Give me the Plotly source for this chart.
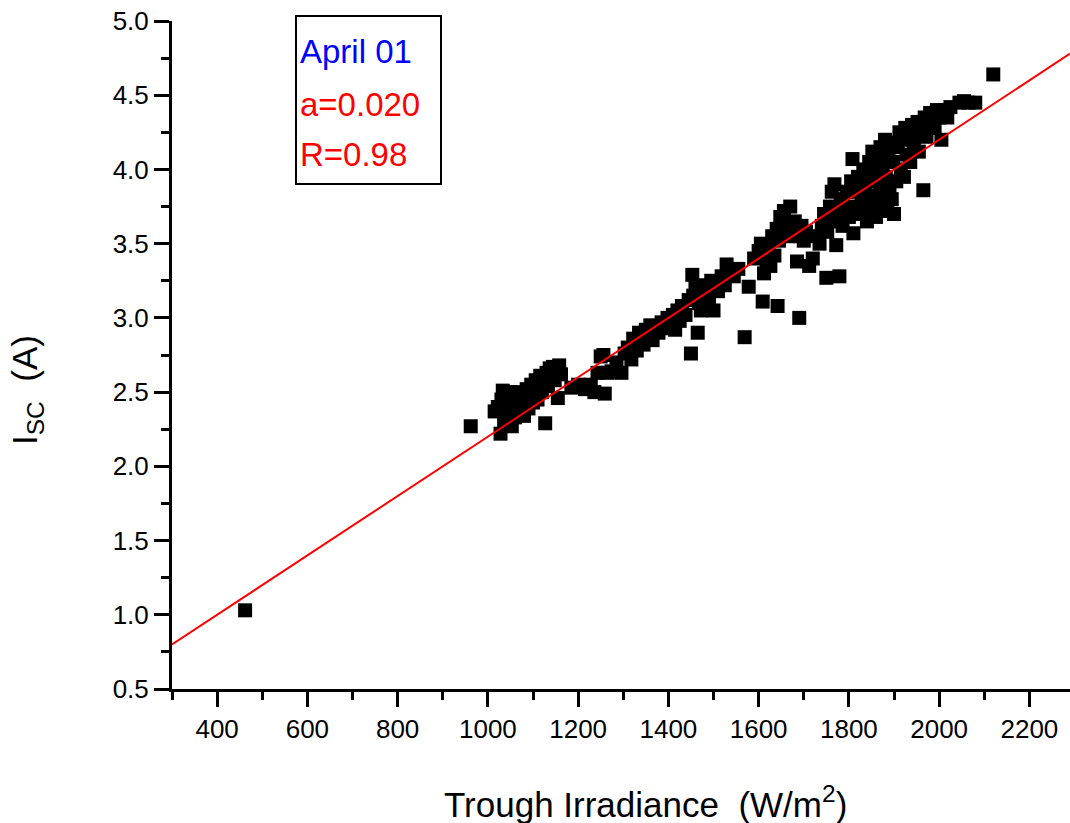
import plotly.graph_objects as go

# ---- data ----
irradiance = [
    462,
    962, 1015, 1022, 1028, 1030, 1033, 1036, 1040, 1042, 1045, 1048, 1050, 1053, 1056, 1058, 1060,
    1063, 1066, 1070, 1072, 1075, 1078, 1080, 1083, 1086, 1090, 1093, 1096, 1100, 1103, 1106, 1110,
    1113, 1116, 1120, 1124, 1127, 1130, 1133, 1137, 1140, 1144, 1148, 1152, 1155, 1158, 1162,
    1185, 1200, 1215, 1228, 1236, 1243, 1250, 1256, 1259, 1265, 1274, 1285, 1296, 1303, 1310, 1318,
    1322, 1330, 1335, 1340, 1345, 1350, 1355, 1360, 1365, 1370, 1378, 1385, 1392, 1398,
    1405, 1410, 1415, 1420, 1425, 1430, 1438, 1445, 1450, 1453, 1455, 1460, 1465, 1468, 1472, 1478,
    1482, 1486, 1490, 1495, 1500, 1505, 1510, 1518, 1525, 1529, 1535, 1545, 1555, 1569, 1578, 1590, 1600,
    1605, 1609, 1612, 1618, 1622, 1626, 1630, 1635, 1640, 1642, 1645, 1648, 1652, 1656, 1660, 1665,
    1670, 1675, 1680, 1685, 1690, 1692, 1695, 1700, 1705,
    1712, 1720, 1728, 1735, 1740, 1745, 1750, 1752, 1758, 1762, 1765, 1768, 1772, 1775, 1779, 1782,
    1786, 1790, 1795, 1800, 1805, 1808, 1810, 1812,
    1815, 1820, 1825, 1828, 1832, 1836, 1840, 1842, 1845, 1848, 1850, 1852, 1855, 1858, 1860, 1862,
    1865, 1868, 1870, 1872, 1875, 1878, 1880, 1882, 1885, 1888, 1890, 1893, 1895, 1898, 1900,
    1905, 1908, 1912, 1915, 1918, 1922, 1925, 1928, 1932, 1936, 1940, 1944, 1948, 1952, 1955, 1960,
    1965, 1968, 1972, 1976, 1980, 1985, 1990, 1995, 2000, 2005, 2008, 2012, 2018, 2025, 2045, 2055,
    2065, 2080, 2120,
]
isc = [
    1.03,
    2.27, 2.37, 2.40, 2.22, 2.45, 2.51, 2.30, 2.42, 2.48, 2.36, 2.50, 2.44, 2.27, 2.40, 2.47, 2.33,
    2.50, 2.43, 2.37, 2.46, 2.41, 2.49, 2.34, 2.44, 2.52, 2.39, 2.47, 2.55, 2.43, 2.50, 2.58, 2.45,
    2.53, 2.61, 2.50, 2.57, 2.29, 2.63, 2.54, 2.66, 2.60, 2.67, 2.58, 2.64, 2.46, 2.68, 2.62,
    2.53, 2.55, 2.52, 2.55, 2.50, 2.63, 2.74, 2.75, 2.49, 2.63, 2.64, 2.70, 2.63, 2.76, 2.80, 2.72,
    2.86, 2.78, 2.90, 2.85, 2.82, 2.92, 2.88, 2.95, 2.85, 2.93, 2.90, 2.97, 2.93, 3.00,
    2.95, 3.02, 2.92, 3.05, 2.98, 3.08, 3.02, 3.12, 2.76, 3.29, 3.15, 3.20, 2.90, 3.10, 3.05, 3.18,
    3.22, 3.08, 3.12, 3.25, 3.05, 3.20, 3.18, 3.28, 3.22, 3.36, 3.30, 3.28, 3.33, 2.87, 3.21, 3.40, 3.45,
    3.50, 3.11, 3.30, 3.38, 3.48, 3.35, 3.55, 3.42, 3.60, 3.08, 3.52, 3.68, 3.58, 3.72, 3.63, 3.55,
    3.75, 3.60, 3.65, 3.38, 3.00, 3.55, 3.62, 3.52, 3.58,
    3.35, 3.40, 3.55, 3.50, 3.62, 3.70, 3.27, 3.58, 3.75, 3.85, 3.65, 3.90, 3.49, 3.70, 3.28, 3.80,
    3.62, 3.72, 3.85, 3.68, 3.92, 4.07, 3.57, 3.75,
    3.85, 3.95, 3.70, 3.80, 4.00, 3.88, 3.65, 3.75, 4.05, 3.92, 3.70, 4.12, 3.82, 3.98, 3.68, 4.08,
    3.78, 3.90, 4.15, 3.72, 4.02, 3.85, 4.20, 3.95, 3.75, 4.10, 3.88, 4.18, 3.80, 4.05, 3.70,
    3.92, 4.15, 4.25, 4.00, 4.20, 3.95, 4.28, 4.10, 4.22, 4.05, 4.30, 4.18, 4.25, 4.32, 4.12, 4.28,
    3.86, 4.35, 4.22, 4.30, 4.38, 4.33, 4.28, 4.40, 4.35, 4.20, 4.38, 4.40, 4.35, 4.42, 4.45, 4.46,
    4.45, 4.45, 4.64,
]

fit_slope = 0.002
fit_intercept = 0.2
fit_x = [300, 2290]
fit_y = [fit_intercept + fit_slope * v for v in fit_x]

x_range = [300, 2290]
y_range = [0.5, 5.0]

FONT = "Arial, Liberation Sans, sans-serif"

fig = go.Figure()
fig.add_trace(go.Scatter(
    x=irradiance, y=isc, mode="markers",
    marker=dict(symbol="square", size=14, color="black", line=dict(width=0)),
    showlegend=False, cliponaxis=False,
))
fig.add_trace(go.Scatter(
    x=fit_x, y=fit_y, mode="lines",
    line=dict(color="#ff0000", width=2),
    showlegend=False,
))

axis_common = dict(
    showgrid=False, zeroline=False, showline=True, linecolor="black", linewidth=3,
    ticks="outside", ticklen=15, tickwidth=3, tickcolor="black",
    tickfont=dict(family=FONT, size=26, color="black"),
)

fig.update_xaxes(
    range=x_range, tick0=400, dtick=200, mirror=False,
    minor=dict(ticks="outside", dtick=100, tick0=300, ticklen=8, tickwidth=3, tickcolor="black"),
    **axis_common,
)
fig.update_yaxes(
    range=y_range, tick0=0.5, dtick=0.5, tickformat=".1f",
    minor=dict(ticks="outside", dtick=0.25, tick0=0.5, ticklen=8, tickwidth=3, tickcolor="black"),
    **axis_common,
)

# axis titles as annotations
fig.add_annotation(
    text="Trough Irradiance  (W/m<sup>2</sup>)", xref="paper", yref="paper",
    x=(645 - 172) / 898, y=(689 - 802) / 668, xanchor="center", yanchor="middle",
    showarrow=False, font=dict(family=FONT, size=35, color="black"),
)
fig.add_annotation(
    text="I<sub>SC</sub>  (A)", xref="paper", yref="paper",
    x=(27 - 172) / 898, y=(689 - 390) / 668, xanchor="center", yanchor="middle",
    textangle=-90, showarrow=False, font=dict(family=FONT, size=35, color="black"),
)

# text box
fig.add_shape(
    type="rect", xref="paper", yref="paper",
    x0=(296 - 172) / 898, x1=(441 - 172) / 898,
    y0=(689 - 184) / 668, y1=(689 - 16) / 668,
    line=dict(color="black", width=2), fillcolor="rgba(0,0,0,0)",
)
box_lines = [("April 01", "#0000ff", 52), ("a=0.020", "#ff0000", 104), ("R=0.98", "#ff0000", 154)]
for txt, col, py in box_lines:
    fig.add_annotation(
        text=txt, xref="paper", yref="paper",
        x=(298 - 172) / 898, y=(689 - py) / 668, xanchor="left", yanchor="middle",
        showarrow=False, font=dict(family=FONT, size=33, color=col),
    )

fig.update_layout(
    width=1070, height=823,
    margin=dict(l=172, r=0, t=21, b=134),
    plot_bgcolor="white", paper_bgcolor="white",
)

fig.write_html("out.html")
